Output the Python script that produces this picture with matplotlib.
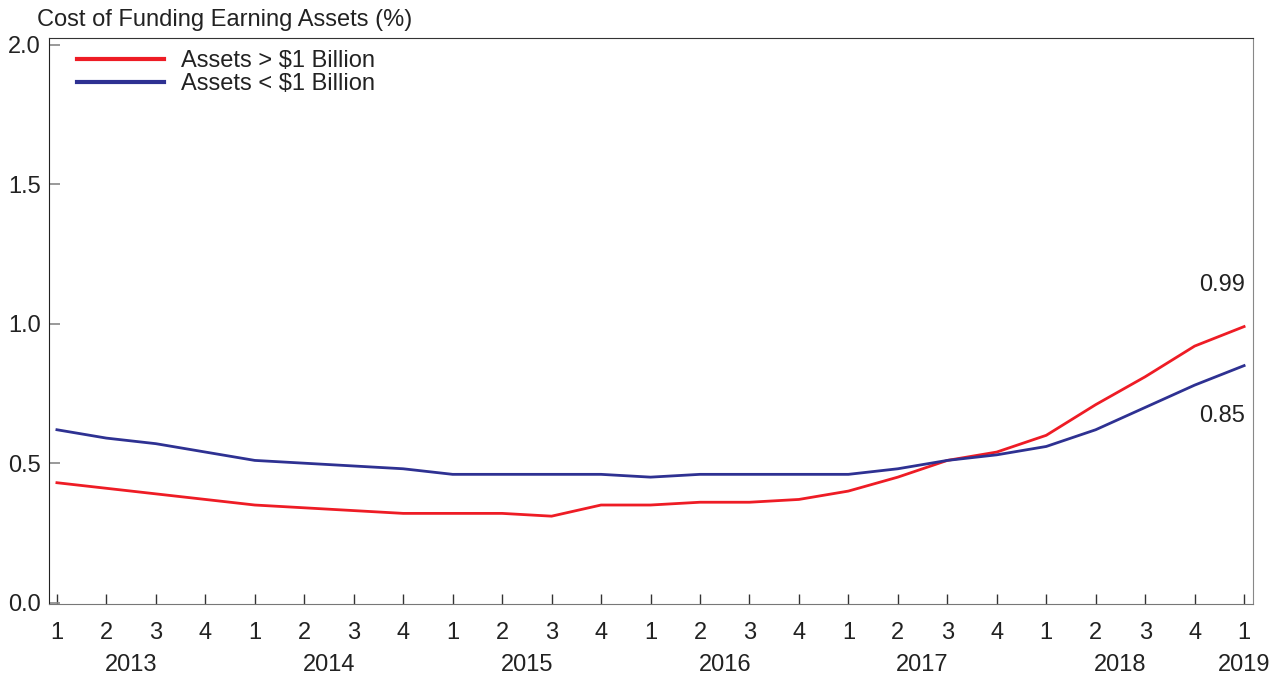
import numpy as np
import matplotlib
matplotlib.use("Agg")
from matplotlib import pyplot as plt
from matplotlib import transforms

plt.rcParams['font.family'] = ['Liberation Sans', 'DejaVu Sans']

# 2013Q1 .. 2019Q1
quarters = ['1', '2', '3', '4'] * 6 + ['1']
years = ['2013', '2014', '2015', '2016', '2017', '2018', '2019']
year_pos = [1.5, 5.5, 9.5, 13.5, 17.5, 21.5, 24]

large = [0.43, 0.41, 0.39, 0.37, 0.35, 0.34, 0.33, 0.32,
         0.32, 0.32, 0.31, 0.35, 0.35, 0.36, 0.36, 0.37,
         0.40, 0.45, 0.51, 0.54, 0.60, 0.71, 0.81, 0.92, 0.99]
small = [0.62, 0.59, 0.57, 0.54, 0.51, 0.50, 0.49, 0.48,
         0.46, 0.46, 0.46, 0.46, 0.45, 0.46, 0.46, 0.46,
         0.46, 0.48, 0.51, 0.53, 0.56, 0.62, 0.70, 0.78, 0.85]

x = np.arange(len(quarters))
fs = 17

fig = plt.figure(figsize=(12.85, 6.79), dpi=100)
ax = fig.add_axes([49 / 1285, 1 - 604 / 679, 1204 / 1285, 566 / 679])

ax.plot(x, large, color='#ee1c25', lw=2, label='Assets > $1 Billion')
ax.plot(x, small, color='#2e3192', lw=2, label='Assets < $1 Billion')

ax.set_xlim(-0.16, 24.18)
ax.set_ylim(-0.005, 2.025)

ax.set_xticks(x)
ax.set_xticklabels(quarters)
ax.set_yticks([0, 0.5, 1.0, 1.5, 2.0])
ax.set_yticklabels(['0.0', '0.5', '1.0', '1.5', '2.0'])
ax.tick_params(axis='x', direction='in', length=7, width=1, color='#333333',
               labelsize=fs, pad=13, labelcolor='#222222')
ax.tick_params(axis='y', direction='in', length=8, width=1.2, color='#888888',
               labelsize=fs, pad=6, labelcolor='#222222')

ax.spines['left'].set_color('#222222')
ax.spines['top'].set_color('#333333')
ax.spines['bottom'].set_color('#777777')
ax.spines['right'].set_color('#888888')

trans = transforms.blended_transform_factory(ax.transData, fig.transFigure)
for xp, yr in zip(year_pos, years):
    fig.text(xp, 1 - 665 / 679, yr, transform=trans, ha='center', va='center',
             fontsize=fs, color='#222222')

fig.text(37 / 1285, 1 - 20 / 679, 'Cost of Funding Earning Assets (%)',
         ha='left', va='center', fontsize=fs, color='#222222')

ax.text(23.55, 1.14, '0.99', ha='center', va='center', fontsize=fs, color='#222222')
ax.text(23.55, 0.67, '0.85', ha='center', va='center', fontsize=fs, color='#222222')

leg = ax.legend(loc='upper left', bbox_to_anchor=(28 / 1204, 1 - 12 / 566),
                frameon=False, fontsize=fs, handlelength=3.7, handletextpad=0.72,
                labelspacing=0.05, borderaxespad=0.0, borderpad=0.0)
for t in leg.get_texts():
    t.set_color('#222222')
for h in leg.get_lines():
    h.set_linewidth(3)

fig.savefig('out.png', dpi=100)
